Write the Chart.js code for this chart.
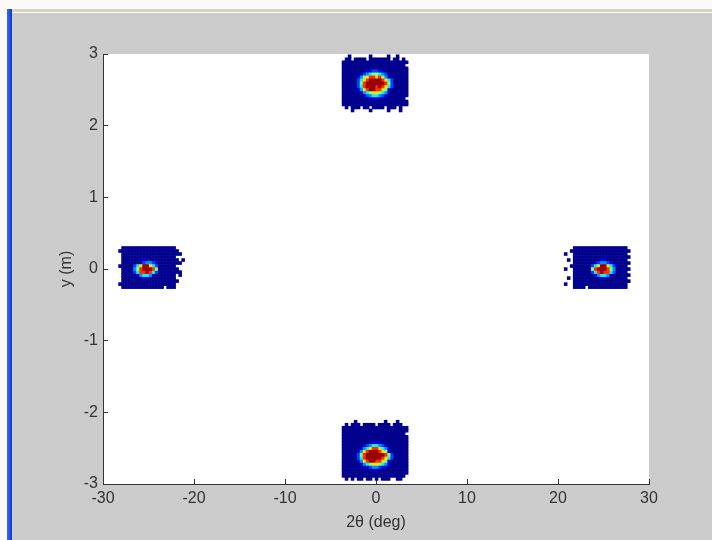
<!DOCTYPE html>
<html>
<head>
<meta charset="utf-8">
<script src="https://cdn.jsdelivr.net/npm/chart.js@4"></script>
<style>
  html, body { margin: 0; padding: 0; background: #fbfbfa; }
  #page { position: relative; width: 712px; height: 540px; overflow: hidden; }
  .figure { position: absolute; left: 12px; top: 13px; right: 0; bottom: 0; background: #cccccc; }
  .titleLine { position: absolute; left: 12px; top: 9px; right: 0; height: 3px; background: #d8d4c2; }
  .sideBar { position: absolute; left: 7px; top: 9px; width: 5px; bottom: 0; background: linear-gradient(to right, #3b6af2, #0b37d6); }
  canvas { position: absolute; left: 0; top: 0; }
</style>
</head>
<body>
<div id="page">
  <div class="figure"></div>
  <div class="titleLine"></div>
  <div class="sideBar"></div>
  <canvas id="chart" width="712" height="540"></canvas>
</div>
<script>
// tick labels
const xTicks = [-30, -20, -10, 0, 10, 20, 30];
const yTicks = [-3, -2, -1, 0, 1, 2, 3];

// bin size of the 2D histogram
const binX = 0.33;   // deg
const binY = 0.042;  // m

// centre of each spot grid: top, bottom, left, right
const spotX = [-0.1, -0.1, -24.66, 24.31];
const spotY = [2.59, -2.53, 0.02, 0.02];

// binned counts, row by row from the top. '.' = empty, 1..9 = colour level
const topSpot = [
  "..1......1.....1..1...",
  ".11.1111.1111111.11.1.",
  "1111111111111111111111",
  "111111111111111111111.",
  "1111111111111111111111",
  "1111111122332211111111",
  "1111112345665431111111",
  "1111124678878642111111",
  "1111135789999875311111",
  "1111136899999986311111",
  "1111135899989875311111",
  "1111124789988762111111",
  "1111112456776542111111",
  "1111111234554321111111",
  "111111111222211111111.",
  "1111111111111111111111",
  "1111111111111111111111",
  ".1.111.11.1111.111.1..",
  "...1.....1.....1...1.."
];

const bottomSpot = [
  "....1.........1...1...",
  ".1.111.1111.1111.111..",
  "1111111111111111111111",
  "1111111111111111111111",
  "111111111111111111111.",
  "1111111111111111111111",
  "1111111111111111111111",
  "1111111112222111111111",
  "1111111234554321111111",
  "1111112457887542111111",
  "1111124789998762111111",
  "1111136899999986311111",
  "1111135899999875311111",
  "1111124789988762111111",
  "1111112456776542111111",
  "1111111223443221111111",
  "1111111111221111111111",
  "1111111111111111111111",
  "111111111111111111111.",
  ".1.1.11.11.1.111..11.."
];

const leftSpot = [
  ".111111111111111111...",
  "11111111111111111111..",
  ".11111111111111111111.",
  ".111111111111111111...",
  ".1111111221111111111.1",
  ".11111123443211111111.",
  "1111135799753111111...",
  ".1111468999861111111..",
  ".11113588985311111111.",
  ".111112455421111111.1.",
  ".111111122111111111...",
  ".1111111111111111111..",
  "1111111111111111111...",
  ".11111111111111.111..."
];

const rightSpot = [
  "...111111111111111111.",
  "..11111111111111111111",
  "1..111111111111111111.",
  "...1111111111111111111",
  ".1.111111111221111111.",
  "...1111111234432111111",
  "..1111111357997531111.",
  "1..1111116899986411111",
  "...111111358988531111.",
  "...1111111245542111111",
  ".1.111111111221111111.",
  "...1111111111111111111",
  "1..111111111111111111.",
  "...1111.1111111111111."
];

// jet colour levels
const levelColors = [null, '#00008f', '#0000d0', '#0040ff', '#0090ff', '#10f0f0',
  '#80ff80', '#ffe000', '#ff3000', '#990000'];

const spots = [topSpot, bottomSpot, leftSpot, rightSpot];
const cells = [];
spots.forEach((rows, s) => {
  const nRows = rows.length;
  const nCols = Math.max(...rows.map(r => r.length));
  rows.forEach((row, r) => {
    [...row].forEach((ch, c) => {
      if (ch === '.') return;
      cells.push({
        x: spotX[s] + (c - (nCols - 1) / 2) * binX,
        y: spotY[s] - (r - (nRows - 1) / 2) * binY,
        v: Number(ch)
      });
    });
  });
});
cells.sort((a, b) => a.v - b.v);

const plotBackground = {
  id: 'plotBackground',
  beforeDraw(chart) {
    const { ctx, chartArea: { left, top, width, height } } = chart;
    ctx.save();
    ctx.fillStyle = '#ffffff';
    ctx.fillRect(left, top, width, height);
    ctx.restore();
  }
};

const font = { family: "'Liberation Sans', Arial, sans-serif", size: 16 };
const ink = '#333333';

new Chart(document.getElementById('chart'), {
  type: 'scatter',
  data: {
    datasets: [{
      data: cells,
      pointStyle: 'rect',
      pointBorderWidth: 0,
      pointRadius: ctx => {
        const xs = ctx.chart.scales.x;
        const side = Math.abs(xs.getPixelForValue(binX) - xs.getPixelForValue(0));
        return (side + 0.6) / Math.SQRT2;
      },
      pointBackgroundColor: ctx => (ctx.raw ? levelColors[ctx.raw.v] : '#00008f')
    }]
  },
  options: {
    responsive: false,
    animation: false,
    events: [],
    layout: { padding: { left: 0, top: 54, right: 63, bottom: 0 } },
    plugins: { legend: { display: false }, tooltip: { enabled: false } },
    scales: {
      x: {
        type: 'linear',
        min: -30,
        max: 30,
        afterFit: s => { s.height = 56; },
        afterBuildTicks: s => { s.ticks = xTicks.map(v => ({ value: v })); },
        ticks: { color: ink, font, padding: 10, maxRotation: 0 },
        grid: { drawOnChartArea: false, drawTicks: true, tickLength: -5, tickColor: ink, tickWidth: 1 },
        border: { display: true, color: ink, width: 1 },
        title: { display: true, text: '2θ (deg)', color: ink, font, padding: { top: 0, bottom: 8 } }
      },
      y: {
        type: 'linear',
        min: -3,
        max: 3,
        afterFit: s => { s.width = 103; },
        afterBuildTicks: s => { s.ticks = yTicks.map(v => ({ value: v })); },
        ticks: { color: ink, font, padding: 10 },
        grid: { drawOnChartArea: false, drawTicks: true, tickLength: -5, tickColor: ink, tickWidth: 1 },
        border: { display: true, color: ink, width: 1 },
        title: { display: true, text: 'y (m)', color: ink, font, padding: { top: 57, bottom: 0 } }
      }
    }
  },
  plugins: [plotBackground]
});
</script>
</body>
</html>
